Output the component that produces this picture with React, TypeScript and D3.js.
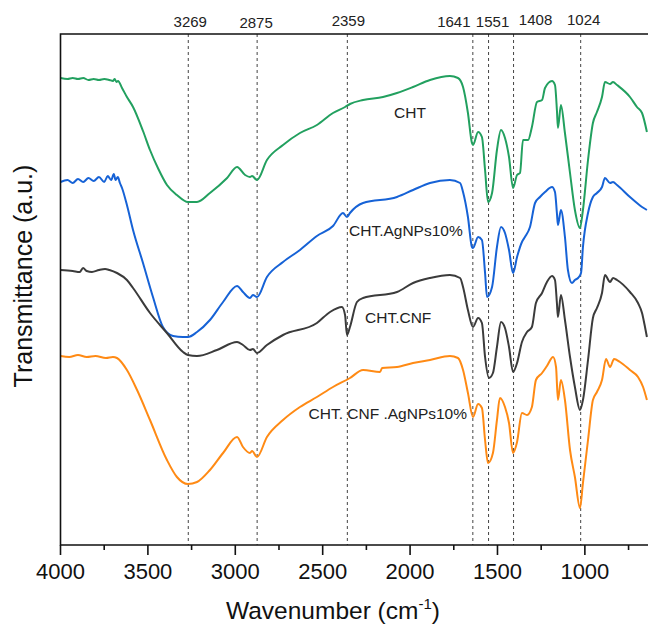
import { useEffect, useRef } from "react";
import * as d3 from "d3";

// [wavenumber (cm-1), transmittance (a.u., offset)]
const chtSeries: [number, number][] = [
  [4000, 467], [3960, 466], [3930, 467], [3900, 466], [3870, 467], [3840, 465], [3810, 466],
  [3780, 465], [3750, 466], [3720, 465], [3700, 464], [3690, 466], [3680, 463], [3671, 464],
  [3648, 457], [3620, 448], [3585, 438], [3528, 414], [3488, 395], [3440, 376], [3391, 360],
  [3334, 350], [3271, 343], [3219, 343], [3145, 352], [3047, 367], [2990, 378], [2944, 370],
  [2916, 368], [2904, 369], [2876, 365], [2819, 385], [2727, 400], [2630, 412], [2533, 420],
  [2441, 432], [2372, 438], [2344, 441], [2269, 445], [2155, 448], [2075, 452], [1983, 458],
  [1886, 465], [1772, 469], [1726, 467], [1697, 458], [1669, 432], [1646, 402], [1640, 400],
  [1611, 413], [1589, 408], [1571, 375], [1554, 343], [1531, 352], [1503, 395], [1480, 415],
  [1457, 407], [1434, 388], [1411, 357], [1388, 370], [1371, 372], [1354, 405], [1325, 405],
  [1303, 418], [1274, 443], [1245, 445], [1228, 457], [1188, 464], [1171, 460], [1160, 435],
  [1154, 417], [1137, 440], [1114, 412], [1085, 372], [1057, 335], [1028, 317], [1011, 335],
  [982, 385], [954, 422], [931, 433], [902, 448], [885, 463], [856, 461], [839, 463],
  [816, 460], [742, 448], [702, 438], [673, 432], [645, 413],
];

const chtAgSeries: [number, number][] = [
  [4000, 363], [3960, 365], [3930, 362], [3900, 366], [3870, 363], [3840, 367], [3810, 364],
  [3780, 368], [3750, 363], [3730, 369], [3710, 365], [3695, 371], [3685, 365], [3672, 368],
  [3660, 362], [3648, 357], [3620, 340], [3585, 315], [3528, 282], [3471, 248], [3414, 218],
  [3356, 209], [3299, 208], [3271, 208], [3219, 213], [3145, 225], [3070, 243], [2990, 259],
  [2956, 253], [2916, 247], [2899, 250], [2876, 248], [2819, 268], [2727, 283], [2630, 295],
  [2533, 309], [2441, 319], [2384, 332], [2361, 328], [2344, 332], [2269, 342], [2075, 348],
  [1983, 355], [1886, 362], [1772, 365], [1714, 362], [1697, 353], [1669, 328], [1646, 298],
  [1640, 297], [1611, 308], [1589, 305], [1571, 272], [1560, 248], [1531, 258], [1503, 298],
  [1480, 318], [1457, 312], [1434, 295], [1411, 272], [1388, 288], [1360, 303], [1343, 308],
  [1314, 318], [1285, 342], [1257, 348], [1228, 353], [1188, 358], [1171, 353], [1160, 332],
  [1154, 320], [1137, 335], [1114, 308], [1097, 275], [1074, 262], [1057, 265], [1039, 267],
  [1022, 272], [1011, 298], [982, 332], [954, 348], [931, 352], [902, 358], [885, 367],
  [856, 362], [839, 363], [816, 360], [742, 348], [702, 342], [673, 338], [645, 335],
];

const chtCnfSeries: [number, number][] = [
  [4000, 275], [3930, 274], [3890, 273], [3871, 277], [3850, 274], [3820, 273], [3780, 275],
  [3745, 276], [3720, 275], [3677, 272], [3620, 265], [3585, 257], [3488, 232], [3391, 212],
  [3299, 193], [3271, 190], [3219, 189], [3105, 195], [2990, 203], [2956, 200], [2916, 195],
  [2899, 196], [2876, 192], [2819, 200], [2727, 210], [2533, 222], [2458, 233], [2390, 238],
  [2372, 230], [2361, 210], [2344, 218], [2304, 243], [2269, 247], [2075, 253], [1983, 262],
  [1886, 267], [1772, 270], [1714, 267], [1697, 258], [1669, 235], [1640, 218], [1611, 227],
  [1589, 222], [1571, 188], [1549, 167], [1526, 172], [1503, 198], [1480, 223], [1457, 217],
  [1434, 198], [1411, 173], [1388, 182], [1360, 203], [1331, 213], [1303, 218], [1280, 242],
  [1245, 252], [1217, 263], [1188, 269], [1171, 265], [1160, 242], [1154, 228], [1137, 250],
  [1114, 225], [1085, 188], [1057, 158], [1028, 135], [1011, 145], [982, 185], [954, 227],
  [931, 237], [902, 252], [885, 270], [856, 263], [839, 267], [816, 265], [742, 253],
  [696, 242], [673, 232], [656, 218], [645, 208],
];

const chtCnfAgSeries: [number, number][] = [
  [4000, 189], [3950, 188], [3900, 190], [3850, 188], [3800, 189], [3740, 187], [3700, 188],
  [3677, 187], [3620, 175], [3562, 155], [3488, 125], [3391, 85], [3334, 68], [3271, 61],
  [3219, 63], [3145, 75], [3070, 92], [2990, 108], [2956, 98], [2916, 92], [2904, 94],
  [2876, 88], [2819, 108], [2727, 125], [2630, 138], [2533, 148], [2441, 158], [2344, 167],
  [2269, 175], [2172, 173], [2160, 177], [2075, 178], [1983, 182], [1886, 185], [1772, 189],
  [1726, 187], [1697, 175], [1669, 152], [1640, 128], [1611, 141], [1589, 137], [1571, 105],
  [1554, 82], [1526, 92], [1503, 125], [1486, 147], [1457, 138], [1434, 122], [1411, 92],
  [1388, 103], [1360, 132], [1331, 130], [1303, 138], [1280, 165], [1245, 172], [1217, 179],
  [1182, 188], [1165, 178], [1154, 145], [1137, 165], [1114, 145], [1085, 95], [1057, 68],
  [1028, 37], [1011, 62], [982, 105], [954, 145], [931, 153], [902, 165], [879, 186],
  [856, 178], [833, 186], [799, 183], [742, 175], [696, 168], [667, 158], [645, 145],
];

const seriesNames = ["CHT", "CHT.AgNPs10%", "CHT.CNF", "CHT. CNF .AgNPs10%"];
const seriesColors = ["#22a05f", "#1662d6", "#3b3b3b", "#ff8a14"];
const allSeries = [chtSeries, chtAgSeries, chtCnfSeries, chtCnfAgSeries];

const majorTicks = [4000, 3500, 3000, 2500, 2000, 1500, 1000];
const minorTicks = [3750, 3250, 2750, 2250, 1750, 1250, 750];
const peakPositions = [3269, 2875, 2359, 1641, 1551, 1408, 1024];

// label placement (layout only)
const peakLabelShift = [
  [2, 27], [-1, 28], [1, 26], [-19, 27], [4, 27], [22, 25], [3, 25],
];
const seriesLabelPos = [
  { x: 394, y: 118, anchor: "start" },
  { x: 349, y: 236, anchor: "start" },
  { x: 365, y: 323, anchor: "start" },
  { x: 467, y: 419, anchor: "end" },
];

const W = 648;
const H = 626;
const LEFT = 60.5;
const TOP = 34;
const BOTTOM = 545;
const FONT = "'Liberation Sans', Arial, sans-serif";

const App = () => {
  const svgRef = useRef(null);

  useEffect(() => {
    const svg = d3.select(svgRef.current).attr("width", W).attr("height", H);
    svg.selectAll("*").remove();

    const x = d3.scaleLinear().domain([4000, 600]).range([LEFT, LEFT + 3400 * 0.17479]);
    const y = d3.scaleLinear().domain([0, BOTTOM - TOP]).range([BOTTOM, TOP]);

    svg.append("defs").append("clipPath").attr("id", "plot-clip")
      .append("rect").attr("x", LEFT).attr("y", TOP).attr("width", W - LEFT).attr("height", BOTTOM - TOP);

    // dashed peak guides
    svg.append("g").selectAll("line").data(peakPositions).enter().append("line")
      .attr("x1", (d) => x(d)).attr("x2", (d) => x(d))
      .attr("y1", TOP).attr("y2", BOTTOM)
      .attr("stroke", "#444").attr("stroke-width", 1).attr("stroke-dasharray", "3,3");

    svg.append("g").selectAll("text").data(peakPositions).enter().append("text")
      .text((d) => d)
      .attr("x", (d, i) => x(d) + peakLabelShift[i][0])
      .attr("y", (d, i) => peakLabelShift[i][1])
      .attr("text-anchor", "middle")
      .attr("font-family", FONT).attr("font-size", 15).attr("fill", "#222");

    const line = d3.line<[number, number]>()
      .x((d) => x(d[0])).y((d) => y(d[1]))
      .curve(d3.curveMonotoneX);

    const lines = svg.append("g").attr("clip-path", "url(#plot-clip)");
    allSeries.forEach((s, i) => {
      lines.append("path").datum(s).attr("d", line)
        .attr("fill", "none").attr("stroke", seriesColors[i])
        .attr("stroke-width", 2).attr("stroke-linejoin", "round");
    });

    svg.append("g").selectAll("text").data(seriesNames).enter().append("text")
      .text((d) => d)
      .attr("x", (d, i) => seriesLabelPos[i].x)
      .attr("y", (d, i) => seriesLabelPos[i].y)
      .attr("text-anchor", (d, i) => seriesLabelPos[i].anchor)
      .attr("font-family", FONT).attr("font-size", 15.5).attr("fill", "#222");

    // frame
    svg.append("path")
      .attr("d", `M${W},${TOP}H${LEFT}V${BOTTOM}H${W}`)
      .attr("fill", "none").attr("stroke", "#111").attr("stroke-width", 1.6);

    const axis = svg.append("g").attr("transform", `translate(0,${BOTTOM})`);
    axis.selectAll(".major").data(majorTicks).enter().append("line")
      .attr("x1", (d) => x(d)).attr("x2", (d) => x(d)).attr("y1", 0).attr("y2", 10)
      .attr("stroke", "#111").attr("stroke-width", 1.6);
    axis.selectAll(".minor").data(minorTicks).enter().append("line")
      .attr("x1", (d) => x(d)).attr("x2", (d) => x(d)).attr("y1", 0).attr("y2", 5)
      .attr("stroke", "#111").attr("stroke-width", 1.6);
    axis.selectAll("text").data(majorTicks).enter().append("text")
      .text((d) => d)
      .attr("x", (d) => x(d)).attr("y", 34)
      .attr("text-anchor", "middle")
      .attr("font-family", FONT).attr("font-size", 22).attr("fill", "#111");

    const xTitle = svg.append("text")
      .attr("x", 226).attr("y", 619)
      .attr("font-family", FONT).attr("font-size", 24.5).attr("fill", "#111");
    xTitle.append("tspan").text("Wavenumber (cm");
    xTitle.append("tspan").text("-1").attr("font-size", 15).attr("dy", -10);
    xTitle.append("tspan").text(")").attr("dy", 10);

    svg.append("text")
      .text("Transmittance (a.u.)")
      .attr("transform", "translate(32,276) rotate(-90)")
      .attr("text-anchor", "middle")
      .attr("font-family", FONT).attr("font-size", 25).attr("fill", "#111");
  }, []);

  return (
    <div style={{ position: "absolute", left: 0, top: 0 }}>
      <svg ref={svgRef} style={{ display: "block", background: "#fff" }} />
    </div>
  );
};

export default App;
